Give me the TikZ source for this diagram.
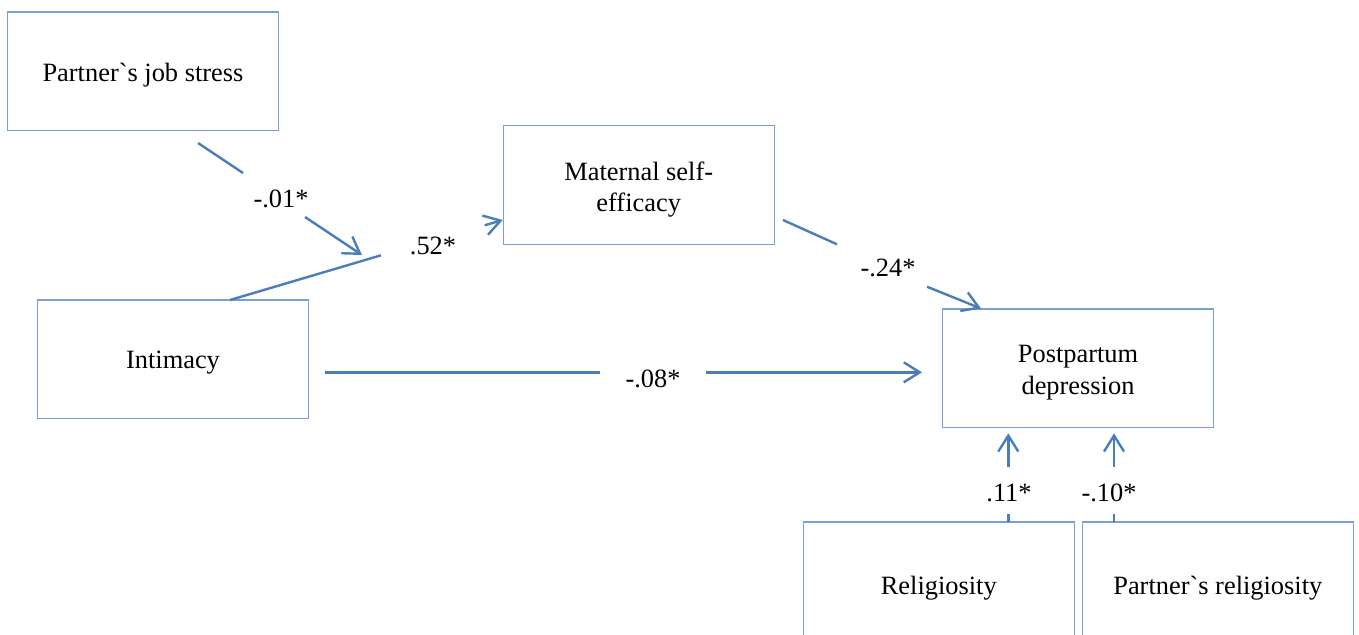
\documentclass[tikz,border=0pt]{standalone}
\usepackage{fontspec}
\setmainfont{Liberation Serif}[Ligatures=TeXOff]
\usetikzlibrary{arrows.meta}
\definecolor{linec}{HTML}{4A7EBB}
\definecolor{boxc}{HTML}{7A9FD3}
\newcommand{\lowertext}[2]{\raisebox{-#1}[\height][\depth]{\begin{tabular}{@{}c@{}}#2\end{tabular}}}
\begin{document}
\begin{tikzpicture}[x=0.5pt,y=-0.5pt,
 txt/.style={font=\fontsize{13.2pt}{15.8pt}\selectfont},
 box/.style={txt,draw=boxc,line width=0.6pt,minimum width=135.5pt,minimum height=59.3pt,inner sep=0pt,align=center},
 conn/.style={draw=linec,line width=1.2pt},
 arr/.style={conn,-{Straight Barb[length=8pt,width=10pt]}},
 lab/.style={txt,inner sep=0pt}]
\useasboundingbox (0,0) rectangle (1359,634);
\clip (0,0) rectangle (1359,634);

% boxes
\node[box] (js) at (143,71.3) {\lowertext{1.7pt}{Partner`s job stress}};
\node[box] (mse) at (638.7,185) {\lowertext{2.4pt}{Maternal self-\\efficacy}};
\node[box] (int) at (173,359.3) {\lowertext{1.5pt}{Intimacy}};
\node[box] (ppd) at (1078,368.2) {\lowertext{2pt}{Postpartum\\depression}};
\node[box,minimum height=63pt] (rel) at (938.8,585) {\lowertext{1.5pt}{Religiosity}};
\node[box,minimum height=63pt] (prel) at (1217.8,585) {\lowertext{1.5pt}{Partner`s religiosity}};

% labels
\node[lab] (l1) at (281,199) {-.01*};
\node[lab] (l2) at (433,246) {.52*};
\node[lab] (l3) at (888,268) {-.24*};
\node[lab] (l4) at (653,379) {-.08*};
\node[lab] (l5) at (1009,493) {.11*};
\node[lab] (l6) at (1109,493) {-.10*};

% connector points
\coordinate (js1) at (198,143);
\coordinate (js2) at (243,173);
\coordinate (js3) at (305,217);
\coordinate (js4) at (362,255);

\coordinate (in1) at (230,300);
\coordinate (in2) at (381,255.3);
\coordinate (in3) at (484.7,225.3);
\coordinate (in4) at (502.7,220);

\coordinate (ms1) at (783,220);
\coordinate (ms2) at (837,244.3);
\coordinate (ms3) at (927,286.7);
\coordinate (ms4) at (981,308.5);

\coordinate (h1) at (325,372.3);
\coordinate (h2) at (600,372.3);
\coordinate (h3) at (706,372.3);
\coordinate (h4) at (922,372.3);

\coordinate (r1) at (1008.3,522);
\coordinate (r2) at (1008.3,514.3);
\coordinate (r3) at (1008.3,466.7);
\coordinate (r4) at (1008.3,433.3);

\coordinate (p1) at (1114,522);
\coordinate (p2) at (1114,514.3);
\coordinate (p3) at (1114,466.7);
\coordinate (p4) at (1114,433.3);

% connectors
\draw[conn] (js1) -- (js2);
\draw[arr] (js3) -- (js4);
\draw[conn] (in1) -- (in2);
\draw[arr] (in3) -- (in4);
\draw[conn] (ms1) -- (ms2);
\draw[arr] (ms3) -- (ms4);
\draw[conn] (h1) -- (h2);
\draw[arr] (h3) -- (h4);
\draw[conn] (r1) -- (r2);
\draw[arr] (r3) -- (r4);
\draw[conn] (p1) -- (p2);
\draw[arr] (p3) -- (p4);
\end{tikzpicture}
\end{document}
